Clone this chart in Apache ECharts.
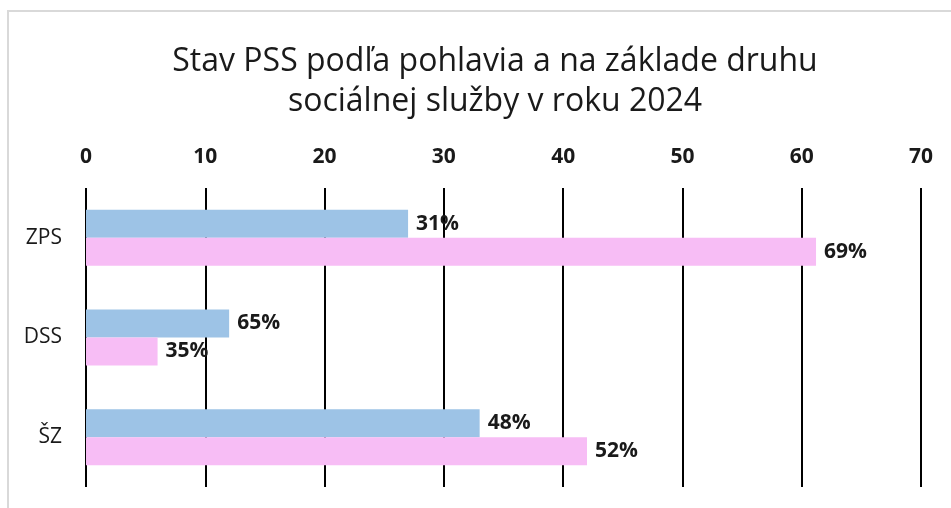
<!DOCTYPE html>
<html>
<head>
<meta charset="utf-8">
<script src="https://cdn.jsdelivr.net/npm/echarts@6/dist/echarts.min.js"></script>
<style>
  html, body { margin: 0; padding: 0; background: #fff; }
  #chart { width: 951px; height: 508px; }
</style>
</head>
<body>
<div id="chart"></div>
<script>
// data
var categories = ["ZPS", "DSS", "ŠZ"];
var blueValues = [27, 12, 33];
var pinkValues = [61.2, 6, 42];
var blueLabels = ["31%", "65%", "48%"];
var pinkLabels = ["69%", "35%", "52%"];
var xTicks = [0, 10, 20, 30, 40, 50, 60, 70];

var chart = echarts.init(document.getElementById("chart"));

var labelStyle = {
  show: true,
  position: "right",
  distance: 8,
  fontFamily: "Open Sans",
  fontWeight: "bold",
  fontSize: 21,
  color: "#1a1a1a"
};

chart.setOption({
  animation: false,
  title: {
    text: "Stav PSS podľa pohlavia a na základe druhu\nsociálnej služby v roku 2024",
    left: 490,
    textAlign: "center",
    top: 37,
    textStyle: {
      fontFamily: "Open Sans",
      fontWeight: "normal",
      fontSize: 32,
      lineHeight: 40,
      color: "#1a1a1a"
    }
  },
  // rámik okolo grafu
  graphic: [{
    type: "polyline",
    shape: { points: [[8, 508], [8, 11], [951, 11]] },
    style: { stroke: "#d9d9d9", lineWidth: 2, fill: null }
  }],
  grid: {
    left: 86,
    right: 30,
    top: 188,
    height: 299
  },
  xAxis: {
    type: "value",
    position: "top",
    min: xTicks[0],
    max: xTicks[xTicks.length - 1],
    interval: 10,
    axisLine: { show: false },
    axisTick: { show: false },
    axisLabel: {
      margin: 20,
      fontFamily: "Open Sans",
      fontWeight: "bold",
      fontSize: 21,
      color: "#1a1a1a"
    },
    splitLine: { lineStyle: { color: "#000", width: 2 } }
  },
  yAxis: {
    type: "category",
    inverse: true,
    data: categories,
    axisLine: { show: false },
    axisTick: { show: false },
    axisLabel: {
      margin: 24,
      fontFamily: "Open Sans",
      fontSize: 21,
      color: "#1a1a1a"
    }
  },
  series: [
    {
      name: "muži",
      type: "bar",
      data: blueValues,
      barWidth: 28,
      barGap: 0,
      itemStyle: { color: "#9dc3e6" },
      label: Object.assign({}, labelStyle, {
        formatter: function (p) { return blueLabels[p.dataIndex]; }
      })
    },
    {
      name: "ženy",
      type: "bar",
      data: pinkValues,
      barWidth: 28,
      barGap: 0,
      itemStyle: { color: "#f7bdf5" },
      label: Object.assign({}, labelStyle, {
        formatter: function (p) { return pinkLabels[p.dataIndex]; }
      })
    }
  ]
});
</script>
</body>
</html>
